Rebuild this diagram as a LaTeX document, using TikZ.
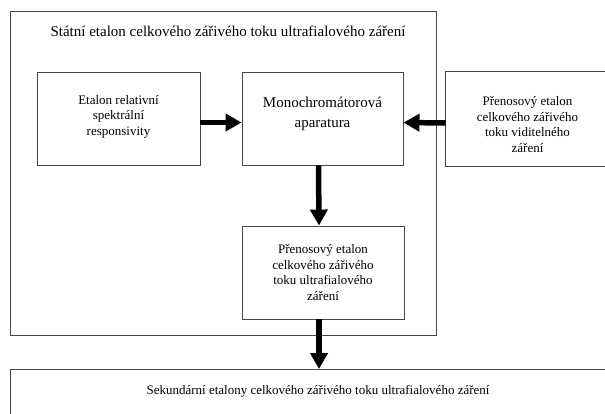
\documentclass[tikz,border=0pt]{standalone}
\usepackage{fontspec}
\setmainfont{Liberation Serif}
\usepackage{tikz}
\usetikzlibrary{calc}
\usetikzlibrary{arrows.meta}
\usetikzlibrary{positioning}
\definecolor{framegray}{RGB}{70, 70, 70}

\tikzset{
  box/.style={draw=framegray, line width=0.9pt, rectangle, align=center,
              inner sep=0pt, font=\fontsize{13}{15.5}\selectfont},
  fatarrow/.style={line width=5.5pt, -{Triangle[length=16pt,width=17pt]}}
}

\begin{document}
\begin{tikzpicture}[x=1pt, y=-1pt]
        \useasboundingbox (0,0) rectangle (605,414);
            % outer frame and title
            \node[box, minimum width=426, minimum height=324]  (frame) at (223.0,173.0) {};
            \node[font=\fontsize{15}{18}\selectfont, inner sep=0pt] (title) at (228.0,31.0)
                 {Státní etalon celkového zářivého toku ultrafialového záření};
            % boxes
            \node[box, minimum width=163, minimum height=93]   (rel)  at (118.5,118.5)
                 {Etalon relativní\\spektrální\\responsivity\\[-9pt]};
            \node[box, minimum width=161, minimum height=93,
                  font=\fontsize{15}{20}\selectfont]              (mono) at (322.5,118.5)
                 {Monochromátorová\\aparatura\\[-8pt]};
            \node[box, draw=none, minimum width=163, minimum height=94] (vis) at (527.5,124.5)
                 {Přenosový etalon\\celkového zářivého\\toku viditelného\\záření};
            \draw[framegray, line width=0.9pt] ([yshift=5.5pt]vis.north east) ++(30,0)
                 -- ([yshift=5.5pt]vis.north west) -- ([yshift=5.5pt]vis.south west) -- ++(200,0);
            \node[box, minimum width=162, minimum height=93]   (uv)   at (323.0,272.5)
                 {Přenosový etalon\\celkového zářivého\\toku ultrafialového\\záření};
            \node[box, minimum width=640, minimum height=80, anchor=north west] (sek) at (9.5,369.0) {};
            \node[font=\fontsize{13}{15.5}\selectfont, inner sep=0pt] (sektext) at (318.0,391.0)
                 {Sekundární etalony celkového zářivého toku ultrafialového záření};
            % arrows
            \draw[fatarrow] ([yshift=-4pt]rel.east)  -- ([yshift=-4pt]mono.west);
            \draw[fatarrow] ([yshift=1.5pt]vis.west) -- ([yshift=-4pt]mono.east);
            \draw[fatarrow] ([xshift=-4pt]mono.south) -- ([xshift=-4pt]uv.north);
            \draw[fatarrow] ([xshift=-4pt]uv.south) -- ([xshift=-4pt]uv.south |- sek.north);
        \end{tikzpicture}
\end{document}
